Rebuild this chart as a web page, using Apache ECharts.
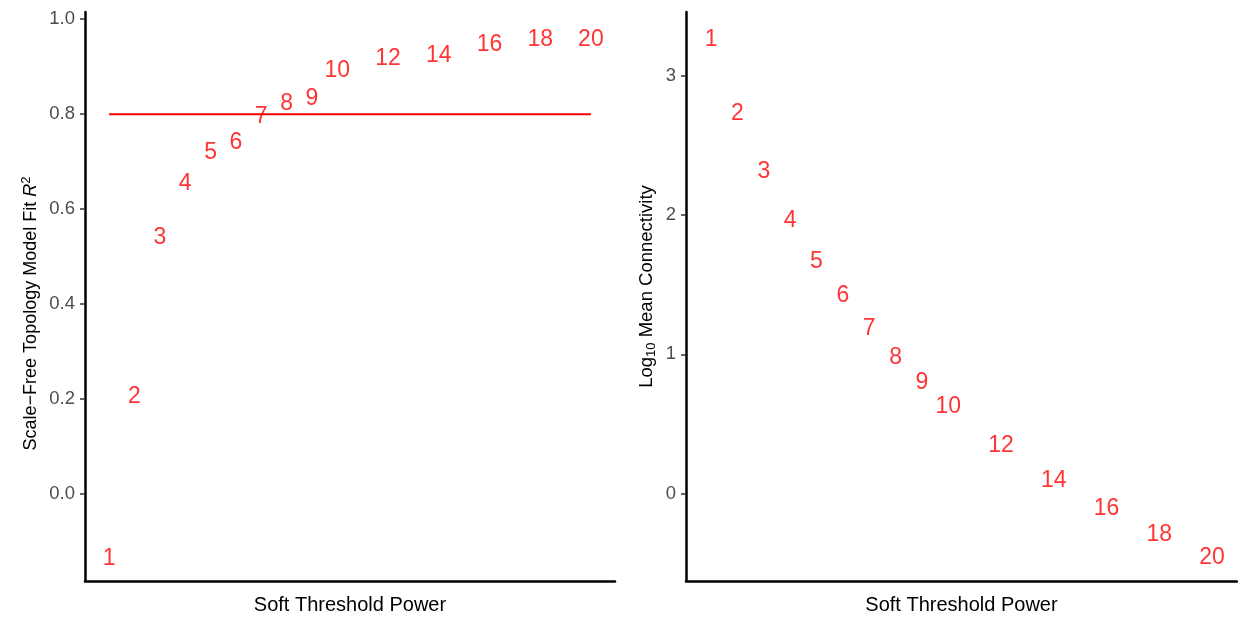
<!DOCTYPE html>
<html>
<head>
<meta charset="utf-8">
<script src="https://cdn.jsdelivr.net/npm/echarts@6/dist/echarts.min.js"></script>
<style>
html,body{margin:0;padding:0;background:#fff;}
#chart{width:1238px;height:620px;}
</style>
</head>
<body>
<div id="chart"></div>
<script>
// Data
var powers = [1, 2, 3, 4, 5, 6, 7, 8, 9, 10, 12, 14, 16, 18, 20];
var scaleFreeR2 = [-0.131, 0.209, 0.544, 0.657, 0.724, 0.745, 0.799, 0.826, 0.837, 0.895, 0.920, 0.928, 0.951, 0.960, 0.960];
var log10MeanK = [3.274, 2.744, 2.326, 1.976, 1.682, 1.432, 1.198, 0.990, 0.811, 0.639, 0.358, 0.107, -0.095, -0.281, -0.446];
var cutoffR2 = 0.8;
var leftTicks = [0, 0.2, 0.4, 0.6, 0.8, 1.0];
var rightTicks = [0, 1, 2, 3];

var FONT = "'Liberation Sans', Arial, sans-serif";
var RED = '#FF0000';

function pts(xs, ys) {
  return xs.map(function (x, i) { return [x, ys[i], String(x)]; });
}

function xAxisCfg(idx) {
  return {
    gridIndex: idx, type: 'value', min: 0.05, max: 20.95,
    axisLine: { show: true, onZero: false, lineStyle: { color: '#000', width: 2.5 } },
    axisTick: { show: false }, axisLabel: { show: false }, splitLine: { show: false },
    name: 'Soft Threshold Power', nameLocation: 'middle', nameGap: 14,
    nameTextStyle: { fontFamily: FONT, fontSize: 20, color: '#000' }
  };
}

function yAxisCfg(idx, min, max, ticks, fmt, name, rich, pad, gap) {
  return {
    gridIndex: idx, type: 'value', min: min, max: max,
    axisLine: { show: true, onZero: false, lineStyle: { color: '#000', width: 2.5 } },
    axisTick: { show: true, customValues: ticks, length: 5, lineStyle: { color: '#333', width: 1.5 } },
    axisLabel: { show: true, customValues: ticks, formatter: fmt, margin: 10,
      fontFamily: FONT, fontSize: 18.5, color: '#4d4d4d', padding: [4, 0, 0, 0] },
    splitLine: { show: false },
    name: name, nameLocation: 'middle', nameGap: gap,
    nameTextStyle: { fontFamily: FONT, fontSize: 18, color: '#000', rich: rich, padding: pad }
  };
}

var labelStyle = {
  show: true, position: 'inside', offset: [0, 2], formatter: function (p) { return p.data[2]; },
  fontFamily: FONT, fontSize: 23, color: RED
};

var option = {
  animation: false,
  backgroundColor: '#fff',
  grid: [
    { left: 85, top: 12, width: 530, height: 571 },
    { left: 686, top: 12, width: 551, height: 571 }
  ],
  xAxis: [xAxisCfg(0), xAxisCfg(1)],
  yAxis: [
    yAxisCfg(0, -0.1826, 1.015, leftTicks, function (v) { return v.toFixed(1); },
      '{t|Scale\u2212Free Topology Model Fit }{i|R}{sup|2}',
      {
        t: { fontFamily: FONT, fontSize: 18, color: '#000', lineHeight: 22 },
        i: { fontFamily: FONT, fontSize: 18, color: '#000', fontStyle: 'italic', lineHeight: 22 },
        sup: { fontFamily: FONT, fontSize: 13, color: '#000', verticalAlign: 'top', lineHeight: 13 }
      }, [0, 34, 0, 0], 43),
    yAxisCfg(1, -0.628, 3.458, rightTicks, function (v) { return String(v); },
      '{t|Log}{sub|10}{t| Mean Connectivity}',
      {
        t: { fontFamily: FONT, fontSize: 18.5, color: '#000', lineHeight: 22 },
        sub: { fontFamily: FONT, fontSize: 13, color: '#000', verticalAlign: 'bottom', lineHeight: 13 }
      }, [0, 0, 0, 20], 28)
  ],
  series: [
    {
      type: 'line', xAxisIndex: 0, yAxisIndex: 0,
      data: [[powers[0], cutoffR2], [powers[powers.length - 1], cutoffR2]],
      symbol: 'none', lineStyle: { color: RED, width: 2 }, silent: true
    },
    {
      type: 'scatter', xAxisIndex: 0, yAxisIndex: 0,
      data: pts(powers, scaleFreeR2), symbolSize: 1,
      itemStyle: { color: 'rgba(0,0,0,0)' }, label: labelStyle
    },
    {
      type: 'scatter', xAxisIndex: 1, yAxisIndex: 1,
      data: pts(powers, log10MeanK), symbolSize: 1,
      itemStyle: { color: 'rgba(0,0,0,0)' }, label: labelStyle
    }
  ]
};

var chart = echarts.init(document.getElementById('chart'), null, { renderer: 'canvas' });
chart.setOption(option);
</script>
</body>
</html>
